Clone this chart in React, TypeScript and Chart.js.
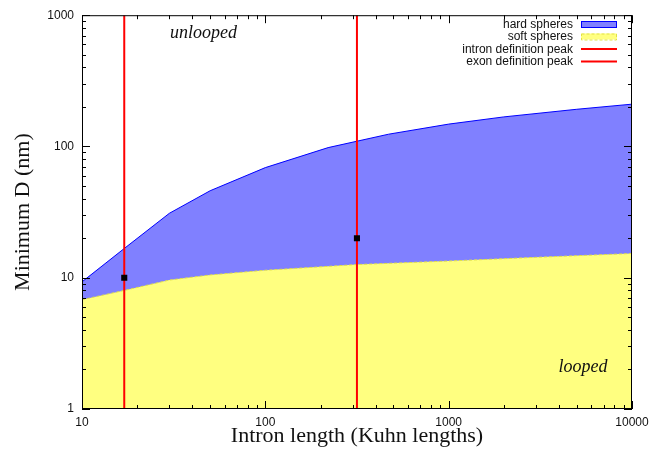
import React, { useEffect, useRef } from "react";
import { Chart, registerables } from "chart.js";

Chart.register(...registerables);

// ---- data ----
const hardX = [10, 17, 30, 50, 100, 220, 470, 1000, 2000, 5000, 10000];
const hardY = [9.3, 16.7, 31, 46, 69, 98, 124, 148, 168, 192, 210];
const softX = [10, 17, 30, 50, 100, 316, 1000, 3000, 10000];
const softY = [6.8, 8.0, 9.6, 10.5, 11.4, 12.6, 13.4, 14.3, 15.3];
const peakX = [17, 316];
const markerX = [17, 316];
const markerY = [10, 20];
const xTicks = [10, 100, 1000, 10000];
const yTicks = [1, 10, 100, 1000];
const legendLabels = ["hard spheres", "soft spheres", "intron definition peak", "exon definition peak"];
const regionLabels = ["unlooped", "looped"];
const regionX = [46, 5400];
const regionY = [670, 1.93];

const BLUE_FILL = "rgb(128,128,255)";
const BLUE_LINE = "rgb(0,0,255)";
const YELLOW_FILL = "rgb(255,255,128)";
const YELLOW_LINE = "rgb(225,225,70)";
const RED = "rgb(255,0,0)";

function minorValues(decades: number[]): number[] {
  const out: number[] = [];
  for (let i = 0; i < decades.length - 1; i++) {
    for (let k = 2; k <= 9; k++) out.push(decades[i] * k);
  }
  return out;
}

const framePlugin = {
  id: "frame",
  afterDatasetsDraw(chart: any) {
    const { ctx, chartArea } = chart;
    const { left, right, top, bottom } = chartArea;
    const xs = chart.scales.x;
    const ys = chart.scales.y;
    ctx.save();
    // region labels
    ctx.fillStyle = "#111";
    ctx.font = "italic 18px 'Liberation Serif', 'DejaVu Serif', serif";
    ctx.textAlign = "center";
    ctx.textBaseline = "alphabetic";
    regionLabels.forEach((t, i) =>
      ctx.fillText(t, xs.getPixelForValue(regionX[i]), ys.getPixelForValue(regionY[i]))
    );

    // border
    ctx.strokeStyle = "#000";
    ctx.lineWidth = 1;
    ctx.strokeRect(left + 0.5, top + 0.5, right - left - 1, bottom - top - 1);
    // ticks
    ctx.beginPath();
    const majorLen = 8;
    const minorLen = 4;
    const drawX = (v: number, len: number) => {
      const px = Math.round(xs.getPixelForValue(v)) + 0.5;
      ctx.moveTo(px, bottom);
      ctx.lineTo(px, bottom - len);
      ctx.moveTo(px, top);
      ctx.lineTo(px, top + len);
    };
    const drawY = (v: number, len: number) => {
      const py = Math.round(ys.getPixelForValue(v)) + 0.5;
      ctx.moveTo(left, py);
      ctx.lineTo(left + len, py);
      ctx.moveTo(right, py);
      ctx.lineTo(right - len, py);
    };
    xTicks.forEach((v) => drawX(v, majorLen));
    minorValues(xTicks).forEach((v) => drawX(v, minorLen));
    yTicks.forEach((v) => drawY(v, majorLen));
    minorValues(yTicks).forEach((v) => drawY(v, minorLen));
    ctx.stroke();

    // legend
    const textRight = 573;
    const sx0 = 581;
    const sx1 = 617;
    const rows = [24, 36.5, 49, 61.5];
    ctx.font = "12px 'Liberation Sans', Arial, sans-serif";
    ctx.textAlign = "right";
    ctx.textBaseline = "middle";
    ctx.fillStyle = "#111";
    legendLabels.forEach((t, i) => ctx.fillText(t, textRight, rows[i] + 0.5));
    // hard spheres sample
    ctx.fillStyle = BLUE_FILL;
    ctx.fillRect(sx0, rows[0] - 3, sx1 - sx0, 6);
    ctx.strokeStyle = BLUE_LINE;
    ctx.lineWidth = 1;
    ctx.strokeRect(sx0 + 0.5, rows[0] - 3 + 0.5, sx1 - sx0 - 1, 6);
    // soft spheres sample
    ctx.fillStyle = YELLOW_FILL;
    ctx.fillRect(sx0, rows[1] - 3, sx1 - sx0, 6);
    ctx.setLineDash([3, 2]);
    ctx.strokeStyle = YELLOW_LINE;
    ctx.strokeRect(sx0 + 0.5, rows[1] - 3 + 0.5, sx1 - sx0 - 1, 6);
    ctx.setLineDash([]);
    // red lines
    ctx.strokeStyle = RED;
    ctx.lineWidth = 2;
    [rows[2], rows[3]].forEach((y) => {
      ctx.beginPath();
      ctx.moveTo(sx0, y);
      ctx.lineTo(sx1, y);
      ctx.stroke();
    });
    ctx.restore();
  },
};

export default function App() {
  const ref = useRef<HTMLCanvasElement | null>(null);

  useEffect(() => {
    document.body.style.margin = "0";
    if (!ref.current) return;
    const hard = hardX.map((x, i) => ({ x, y: hardY[i] }));
    const soft = softX.map((x, i) => ({ x, y: softY[i] }));
    const peaks = peakX.map((px) => ({
      type: "line",
      data: [
        { x: px, y: yTicks[0] },
        { x: px, y: yTicks[yTicks.length - 1] },
      ],
      borderColor: RED,
      borderWidth: 2,
      pointRadius: 0,
      fill: false,
      order: 1,
    }));
    const chart = new Chart(ref.current, {
      type: "line",
      data: {
        datasets: [
          {
            label: legendLabels[0],
            data: hard,
            borderColor: BLUE_LINE,
            backgroundColor: BLUE_FILL,
            borderWidth: 1,
            pointRadius: 0,
            fill: "start",
            order: 3,
          },
          {
            label: legendLabels[1],
            data: soft,
            borderColor: YELLOW_LINE,
            backgroundColor: YELLOW_FILL,
            borderWidth: 1,
            borderDash: [3, 2],
            pointRadius: 0,
            fill: "start",
            order: 2,
          },
          { label: legendLabels[2], ...peaks[0] },
          { label: legendLabels[3], ...peaks[1] },
          {
            label: "markers",
            type: "scatter",
            data: markerX.map((x, i) => ({ x, y: markerY[i] })),
            pointStyle: "rect",
            pointRadius: 4.3,
            pointBorderWidth: 0,
            backgroundColor: "#000",
            borderColor: "#000",
            showLine: false,
            order: 0,
          },
        ] as any,
      },
      options: {
        animation: false,
        responsive: false,
        devicePixelRatio: 1,
        layout: { padding: { top: 12, right: 33, left: 0, bottom: 0 } },
        plugins: {
          legend: { display: false },
          tooltip: { enabled: false },
        },
        scales: {
          x: {
            type: "logarithmic",
            min: 10,
            max: 10000,
            grid: { display: false, drawTicks: false },
            border: { display: false },
            afterBuildTicks: (s: any) => {
              s.ticks = xTicks.map((v) => ({ value: v }));
            },
            afterFit: (s: any) => {
              s.height = 40;
            },
            ticks: {
              autoSkip: false,
              maxRotation: 0,
              padding: 6,
              color: "#111",
              font: { family: "'Liberation Sans', Arial, sans-serif", size: 12 },
              callback: (v: any) => String(v),
            },
            title: {
              display: true,
              text: "Intron length (Kuhn lengths)",
              color: "#111",
              padding: { top: 0, bottom: 0 },
              font: { family: "'Liberation Serif', 'DejaVu Serif', serif", size: 22, lineHeight: 1.2 },
            },
          },
          y: {
            type: "logarithmic",
            min: 1,
            max: 1000,
            grid: { display: false, drawTicks: false },
            border: { display: false },
            afterBuildTicks: (s: any) => {
              s.ticks = yTicks.map((v) => ({ value: v }));
            },
            afterFit: (s: any) => {
              s.width = 82;
            },
            ticks: {
              autoSkip: false,
              padding: 8,
              color: "#111",
              font: { family: "'Liberation Sans', Arial, sans-serif", size: 12 },
              callback: (v: any) => String(v),
            },
            title: {
              display: true,
              text: "Minimum D (nm)",
              color: "#111",
              padding: { top: 10, bottom: 0 },
              font: { family: "'Liberation Serif', 'DejaVu Serif', serif", size: 22, lineHeight: 1.2 },
            },
          },
        },
      } as any,
      plugins: [framePlugin],
    });
    return () => chart.destroy();
  }, []);

  return (
    <div style={{ width: 665, height: 449, position: "relative" }}>
      <canvas ref={ref} width={665} height={449} style={{ display: "block" }} />
    </div>
  );
}
